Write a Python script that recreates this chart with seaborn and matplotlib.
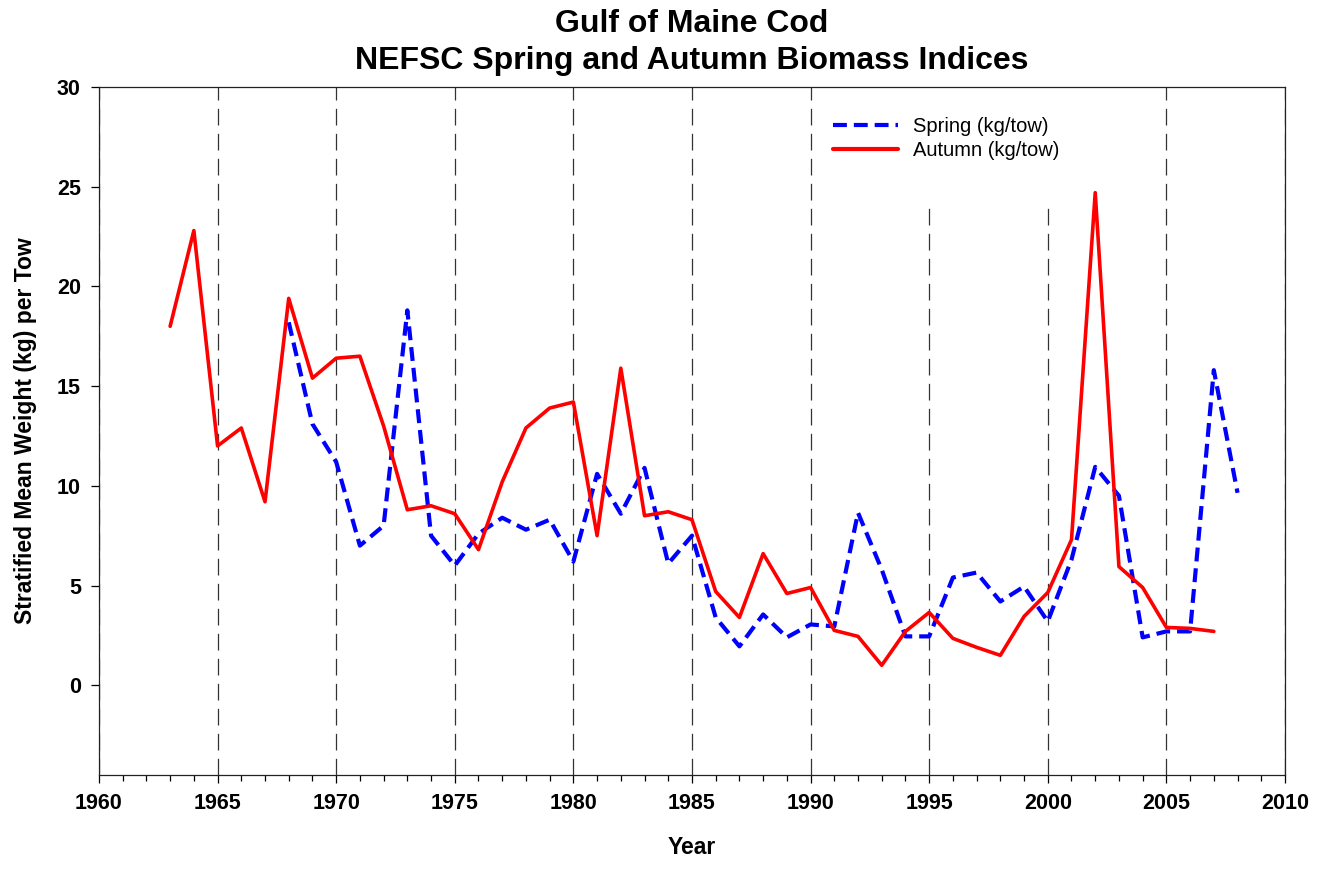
import matplotlib
matplotlib.use("Agg")
import matplotlib.pyplot as plt
import matplotlib.patches as mpatches
from matplotlib.ticker import MultipleLocator
import pandas as pd
import seaborn as sns

spring_years = list(range(1968, 2009))
spring_kg = [18.2, 13.1, 11.2, 7.0, 8.0, 18.8, 7.5, 6.0, 7.6, 8.4,
             7.8, 8.3, 6.2, 10.6, 8.6, 10.9, 6.1, 7.5, 3.4, 1.95,
             3.55, 2.4, 3.05, 2.95, 8.65, 5.8, 2.45, 2.45, 5.4, 5.65,
             4.2, 4.95, 3.2, 6.3, 10.95, 9.5, 2.4, 2.7, 2.7, 15.8,
             9.65]

autumn_years = list(range(1963, 2008))
autumn_kg = [18.0, 22.8, 12.0, 12.9, 9.2, 19.4, 15.4, 16.4, 16.5, 13.0,
             8.8, 9.0, 8.6, 6.8, 10.2, 12.9, 13.9, 14.2, 7.5, 15.9,
             8.5, 8.7, 8.3, 4.7, 3.4, 6.6, 4.6, 4.9, 2.75, 2.45,
             1.0, 2.7, 3.65, 2.35, 1.9, 1.5, 3.45, 4.65, 7.3, 24.7,
             5.95, 4.9, 2.9, 2.85, 2.7]

spring = pd.DataFrame({"year": spring_years, "kg": spring_kg})
autumn = pd.DataFrame({"year": autumn_years, "kg": autumn_kg})

sns.set_style("ticks")
plt.rcParams["font.family"] = ["Liberation Sans", "DejaVu Sans"]
plt.rcParams["lines.scale_dashes"] = False
plt.rcParams["text.color"] = "black"
plt.rcParams["axes.labelcolor"] = "black"
plt.rcParams["xtick.color"] = "black"
plt.rcParams["ytick.color"] = "black"

fig = plt.figure(figsize=(13.32, 8.69), dpi=100)
ax = fig.add_axes([0.0743, 0.1082, 0.8904, 0.7917])

# white patch behind the legend hides the grid lines there
ax.add_patch(mpatches.Rectangle((0.62, 0.832), 0.23, 0.168,
                                transform=ax.transAxes, facecolor="white",
                                edgecolor="none", zorder=1))

sns.lineplot(data=spring, x="year", y="kg", ax=ax, color="#0000ff",
             linewidth=3.0, linestyle=(0, (10, 5)),
             label="Spring (kg/tow)", zorder=3)
sns.lineplot(data=autumn, x="year", y="kg", ax=ax, color="#ff0000",
             linewidth=2.6, label="Autumn (kg/tow)", zorder=3)

ax.set_xlim(1960, 2010)
ax.set_ylim(-4.5, 30)
ax.xaxis.set_major_locator(MultipleLocator(5))
ax.xaxis.set_minor_locator(MultipleLocator(1))
ax.set_yticks([0, 5, 10, 15, 20, 25, 30])

ax.set_axisbelow(True)
ax.xaxis.grid(True, which="major", color="#333333", linewidth=0.9,
              linestyle=(0, (12, 6)))

for s in ax.spines.values():
    s.set_visible(True)
    s.set_color("#222222")
    s.set_linewidth(0.9)

ax.tick_params(axis="both", which="major", direction="out", length=6,
               width=0.9, labelsize=15.5, pad=7)
ax.tick_params(axis="x", which="minor", direction="out", length=4, width=0.9)
for lab in ax.get_xticklabels() + ax.get_yticklabels():
    lab.set_fontweight("bold")

ax.set_xlabel("Year", fontsize=16.5, fontweight="bold", labelpad=16)
ax.set_ylabel("Stratified Mean Weight (kg) per Tow", fontsize=16.5,
              fontweight="bold", labelpad=14)
ax.set_title("Gulf of Maine Cod\nNEFSC Spring and Autumn Biomass Indices",
             fontsize=23, fontweight="bold", pad=13, linespacing=1.3)

leg = ax.legend(loc="upper left", bbox_to_anchor=(0.619, 0.957),
                frameon=False, prop={"family": "Liberation Sans", "size": 14.5},
                handlelength=3.2, handletextpad=0.75, labelspacing=0.25,
                borderpad=0, borderaxespad=0)
for h in leg.get_lines():
    h.set_linewidth(3.0)

fig.savefig("out.png", dpi=100)
plt.close(fig)
